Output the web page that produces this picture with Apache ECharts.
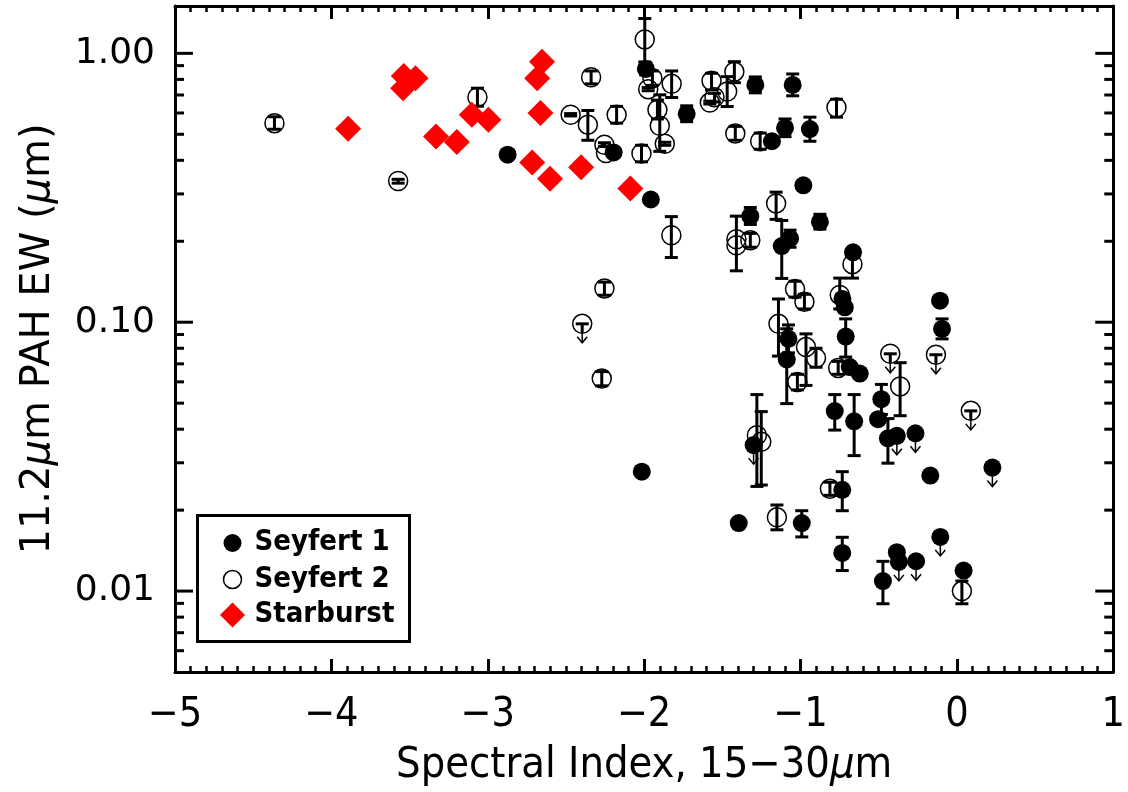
<!DOCTYPE html>
<html><head><meta charset="utf-8">
<script src="https://cdn.jsdelivr.net/npm/echarts@6.0.0/dist/echarts.min.js"></script>
<style>html,body{margin:0;padding:0;background:#fff}#chart{width:1128px;height:792px}</style>
</head><body><div id="chart"></div>
<script>
// ---- data ----
// [x, y, errLow, errHigh]  (null = no visible error bar)
const seyfert1 = [
  [-2.873,0.420,null,null],[-1.989,0.875,0.831,0.921],[-1.728,0.596,0.557,0.638],
  [-1.289,0.763,0.713,0.817],[-1.050,0.763,0.695,0.838],[-1.183,0.471,null,null],
  [-1.099,0.528,0.490,0.570],[-0.940,0.523,0.471,0.579],[-2.195,0.428,null,null],
  [-1.957,0.286,null,null],[-1.321,0.248,0.231,0.267],[-0.982,0.323,null,null],
  [-0.876,0.236,0.222,0.252],[-1.120,0.192,0.1455,0.239],[-1.067,0.205,0.190,0.220],
  [-0.664,0.182,null,null],[-2.015,0.0278,null,null],[-1.077,0.0867,0.0769,0.0977],
  [-1.088,0.0727,0.0498,0.0945],[-0.717,0.1136,null,null],[-0.732,0.122,null,null],
  [-0.711,0.0884,0.0742,0.1029],[-0.685,0.0681,null,null],[-0.621,0.0644,null,null],
  [-0.483,0.0517,0.0454,0.0587],[-0.504,0.0436,null,null],[-0.441,0.0370,0.0299,0.0438],
  [-0.384,0.0378,null,null],[-0.265,0.0386,null,null],[-0.108,0.1202,null,null],
  [-0.095,0.0945,0.0867,0.1029],[-0.170,0.0269,null,null],[0.227,0.0288,null,null],
  [-0.781,0.0467,0.0397,0.0538],[-0.657,0.0428,0.0319,0.0538],[-1.300,0.0349,null,null],
  [-0.733,0.0238,0.0199,0.0278],[-1.395,0.0179,null,null],[-0.992,0.0179,0.0159,0.0199],
  [-0.733,0.01386,0.01192,0.01585],[-0.473,0.01089,0.00897,0.0129],[-0.384,0.01395,null,null],
  [-0.371,0.01284,null,null],[-0.261,0.01291,null,null],[-0.106,0.0159,null,null],
  [0.043,0.01192,null,null]
];
// Seyfert 1 upper limits [x, y]
const seyfert1Limits = [
  [-0.384,0.0378],[-0.265,0.0386],[0.227,0.0288],[-1.300,0.0349],
  [-0.371,0.01284],[-0.261,0.01291],[-0.106,0.0159]
];
const seyfert2 = [
  [-4.364,0.550,0.522,0.581],[-3.573,0.335,0.329,0.340],[-3.066,0.687,0.636,0.742],
  [-1.996,1.127,0.929,1.348],[-1.947,0.808,0.760,0.860],[-1.974,0.736,0.726,0.746],
  [-1.915,0.617,0.570,0.670],[-1.900,0.538,0.432,0.701],[-1.868,0.461,0.455,0.467],
  [-1.824,0.770,0.685,0.860],[-1.569,0.790,0.731,0.843],[-1.580,0.656,0.648,0.664],
  [-1.550,0.687,0.660,0.710],[-1.469,0.721,0.634,0.819],[-1.423,0.855,0.778,0.931],
  [-1.417,0.503,0.475,0.535],[-2.017,0.424,0.395,0.455],[-2.339,0.815,0.770,0.860],
  [-2.470,0.591,0.585,0.597],[-2.360,0.543,0.475,0.613],[-2.176,0.591,0.550,0.635],
  [-2.254,0.457,0.450,0.465],[-2.244,0.426,null,null],[-1.258,0.471,0.440,0.505],
  [-0.770,0.629,0.579,0.675],[-1.826,0.2106,0.174,0.247],[-1.410,0.2035,0.1553,0.248],
  [-1.410,0.1933,null,null],[-1.321,0.2017,0.190,0.214],[-1.156,0.2766,0.2413,0.3046],
  [-0.668,0.1644,0.1459,0.185],[-2.254,0.1336,0.126,0.141],[-2.396,0.0986,null,null],
  [-2.271,0.0617,0.058,0.0655],[-1.035,0.1328,0.124,0.142],[-0.975,0.1192,0.112,0.127],
  [-1.141,0.0986,0.0748,0.122],[-0.965,0.0808,0.0582,0.0905],[-0.901,0.0736,0.068,0.080],
  [-1.020,0.0599,0.056,0.064],[-0.749,0.1262,0.112,0.1459],[-0.759,0.0676,0.064,0.0715],
  [-0.426,0.0763,null,null],[-0.134,0.0757,null,null],[-0.363,0.0577,0.0449,0.0707],
  [0.089,0.0468,null,null],[-1.279,0.0380,0.0245,0.0538],[-1.251,0.0359,0.0248,0.0465],
  [-0.812,0.0240,0.0227,0.0254],[-1.151,0.0188,0.0169,0.0209],[0.032,0.0100,0.00897,0.0109]
];
const seyfert2Limits = [
  [-2.396,0.0986],[-0.426,0.0763],[-0.134,0.0757],[0.089,0.0468]
];
const starburst = [
  [-3.893,0.524],[-3.541,0.742],[-3.537,0.824],[-3.462,0.808],[-3.331,0.491],
  [-3.198,0.468],[-3.102,0.591],[-2.996,0.566],[-2.653,0.931],[-2.684,0.808],
  [-2.663,0.600],[-2.716,0.393],[-2.602,0.342],[-2.403,0.377],[-2.088,0.314]
];
const xTicks = [-5,-4,-3,-2,-1,0,1];
const yMajorTicks = [0.01,0.1,1];
const yMinorTicks = [0.006,0.007,0.008,0.009,0.02,0.03,0.04,0.05,0.06,0.07,0.08,0.09,
                     0.2,0.3,0.4,0.5,0.6,0.7,0.8,0.9];
const legendLabels = ['Seyfert 1','Seyfert 2','Starburst'];
const xMin = -5, xMax = 1, yMin = 0.005, yMax = 1.5;

// ---- chart ----
const chart = echarts.init(document.getElementById('chart'), null, {renderer:'canvas'});

function errBarRender(params, api){
  const x = api.value(0);
  const p1 = api.coord([x, api.value(1)]);
  const p2 = api.coord([x, api.value(2)]);
  const w = 6.5, st = {stroke:'#000', lineWidth:3};
  return {type:'group', children:[
    {type:'line', shape:{x1:p1[0],y1:p1[1],x2:p2[0],y2:p2[1]}, style:st},
    {type:'line', shape:{x1:p1[0]-w,y1:p1[1],x2:p1[0]+w,y2:p1[1]}, style:st},
    {type:'line', shape:{x1:p2[0]-w,y1:p2[1],x2:p2[0]+w,y2:p2[1]}, style:st}
  ]};
}
function limitRender(params, api){
  const p = api.coord([api.value(0), api.value(1)]);
  const w = 6.5, L = 19;
  return {type:'group', children:[
    {type:'line', shape:{x1:p[0]-w,y1:p[1],x2:p[0]+w,y2:p[1]}, style:{stroke:'#000',lineWidth:3}},
    {type:'line', shape:{x1:p[0],y1:p[1],x2:p[0],y2:p[1]+9}, style:{stroke:'#000',lineWidth:3}},
    {type:'line', shape:{x1:p[0],y1:p[1]+9,x2:p[0],y2:p[1]+L}, style:{stroke:'#000',lineWidth:1.5}},
    {type:'polyline', shape:{points:[[p[0]-5,p[1]+L-6],[p[0],p[1]+L],[p[0]+5,p[1]+L-6]]},
     style:{stroke:'#000',lineWidth:1.5,fill:null}}
  ]};
}
function yTickRender(params, api){
  const v = api.value(1), len = api.value(2);
  const pl = api.coord([xMin, v]), pr = api.coord([xMax, v]);
  const st = {stroke:'#000', lineWidth:3};
  return {type:'group', children:[
    {type:'line', shape:{x1:pl[0],y1:pl[1],x2:pl[0]+len,y2:pl[1]}, style:st},
    {type:'line', shape:{x1:pr[0]-len,y1:pr[1],x2:pr[0],y2:pr[1]}, style:st}
  ]};
}
const yTickData = yMajorTicks.map(v=>[xMin, v, 18]).concat(yMinorTicks.map(v=>[xMin, v, 9]));

const condFont = "'DejaVu Sans Condensed','Liberation Sans Narrow',sans-serif";
const legendFont = "bold 29px 'DejaVu Sans Condensed','DejaVu Sans',sans-serif";
const axisLineStyle = {color:'#000', width:3};
const xAxisBase = {
  type:'value', min:xMin, max:xMax, interval:1,
  axisLine:{show:true, onZero:false, lineStyle:axisLineStyle},
  axisTick:{show:true, inside:true, length:13, lineStyle:{color:'#000', width:3}},
  minorTick:{show:true, splitNumber:10, length:6, lineStyle:{color:'#000', width:2.5}},
  splitLine:{show:false}
};
const yAxisBase = {
  type:'log', logBase:10, min:yMin, max:yMax,
  axisLine:{show:true, onZero:false, lineStyle:axisLineStyle},
  axisTick:{show:false}, minorTick:{show:false}, splitLine:{show:false}
};

chart.setOption({
  animation:false,
  backgroundColor:'#fff',
  grid:{left:175, right:10, top:6, bottom:117, containLabel:false},
  xAxis:[
    Object.assign({}, xAxisBase, {
      position:'bottom',
      axisLabel:{show:true, margin:23, color:'#000', fontSize:41, fontFamily:condFont,
        formatter: v => (v < 0 ? '\u2212' + Math.abs(v) : String(v))},
      name:'Spectral Index, 15\u221230{i|\u03bc}m', nameLocation:'middle', nameGap:72,
      nameTextStyle:{color:'#000', fontSize:43, fontFamily:condFont,
        rich:{i:{fontStyle:'italic', fontSize:43, color:'#000', fontFamily:condFont}}}
    }),
    Object.assign({}, xAxisBase, {position:'top', axisLabel:{show:false}})
  ],
  yAxis:[
    Object.assign({}, yAxisBase, {
      position:'left',
      axisLabel:{show:true, margin:20, color:'#000', fontSize:36, fontFamily:"'DejaVu Sans',sans-serif",
        showMinLabel:false, showMaxLabel:false,
        formatter: v => Number(v).toFixed(2)},
      name:'11.2{i|\u03bc}m PAH EW ({i|\u03bc}m)', nameLocation:'middle', nameRotate:90, nameGap:116,
      nameTextStyle:{color:'#000', fontSize:40, fontFamily:"'DejaVu Sans',sans-serif",
        rich:{i:{fontStyle:'italic', fontSize:40, color:'#000', fontFamily:"'DejaVu Sans',sans-serif"}}}
    }),
    Object.assign({}, yAxisBase, {position:'right', axisLabel:{show:false}})
  ],
  series:[
    {name:'yTicks', type:'custom', renderItem:yTickRender, data:yTickData, silent:true,
     encode:{x:0, y:1}, clip:false, z:5},
    {name:'Seyfert 1', type:'scatter', data:seyfert1.map(d=>[d[0],d[1]]), symbol:'circle', symbolSize:18,
     itemStyle:{color:'#000', opacity:1}, z:3},
    {name:'Seyfert 2', type:'scatter', data:seyfert2.map(d=>[d[0],d[1]]), symbol:'circle', symbolSize:19,
     itemStyle:{color:'rgba(0,0,0,0)', borderColor:'#000', borderWidth:1.5, opacity:1}, z:3},
    {name:'S1 errors', type:'custom', renderItem:errBarRender, silent:true, z:4,
     data:seyfert1.filter(d=>d[2]!==null).map(d=>[d[0],d[2],d[3]]), encode:{x:0, y:[1,2]}},
    {name:'S2 errors', type:'custom', renderItem:errBarRender, silent:true, z:4,
     data:seyfert2.filter(d=>d[2]!==null).map(d=>[d[0],d[2],d[3]]), encode:{x:0, y:[1,2]}},
    {name:'limits', type:'custom', renderItem:limitRender, silent:true, z:4,
     data:seyfert1Limits.concat(seyfert2Limits), encode:{x:0, y:1}},
    {name:'Starburst', type:'scatter', data:starburst, symbol:'diamond', symbolSize:26,
     itemStyle:{color:'#ff0000', opacity:1}, z:6}
  ],
  graphic:[
    {type:'group', left:196, top:514, z:100, children:[
      {type:'rect', shape:{x:0, y:0, width:212, height:126}, style:{fill:'#fff', stroke:'#000', lineWidth:3}},
      {type:'circle', shape:{cx:35, cy:27.5, r:9}, style:{fill:'#000'}},
      {type:'circle', shape:{cx:35, cy:64, r:9}, style:{fill:null, stroke:'#000', lineWidth:1.5}},
      {type:'polygon', shape:{points:[[35,87],[47.5,99.5],[35,112],[22.5,99.5]]}, style:{fill:'#ff0000'}},
      {type:'text', x:57, y:27, style:{text:legendLabels[0], font:legendFont, fill:'#000', verticalAlign:'middle'}},
      {type:'text', x:57, y:63.5, style:{text:legendLabels[1], font:legendFont, fill:'#000', verticalAlign:'middle'}},
      {type:'text', x:57, y:99, style:{text:legendLabels[2], font:legendFont, fill:'#000', verticalAlign:'middle'}}
    ]}
  ]
});
</script></body></html>
